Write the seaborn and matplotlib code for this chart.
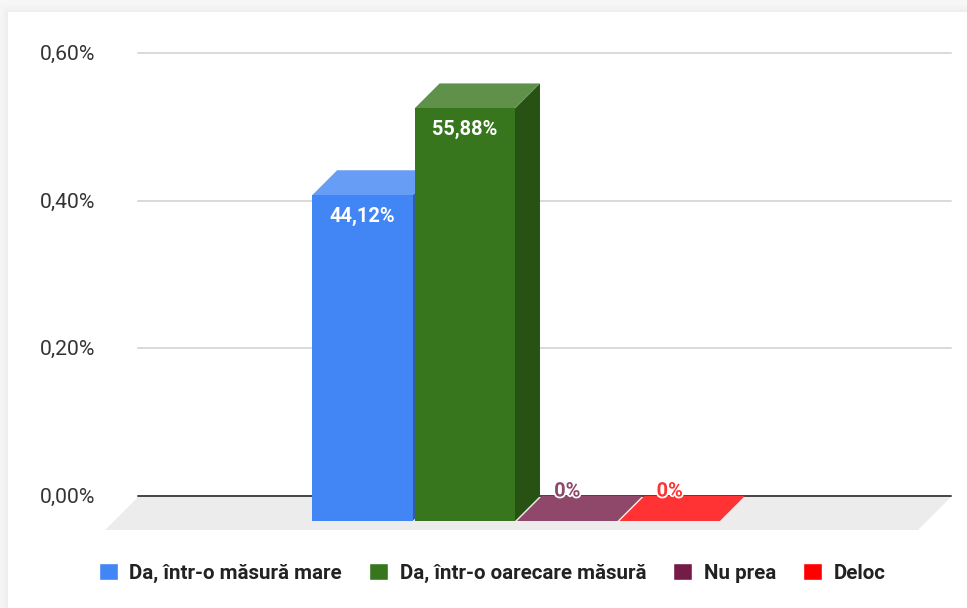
import matplotlib
matplotlib.use('Agg')
import matplotlib.pyplot as plt
import matplotlib.patheffects as pe
from matplotlib.patches import Polygon, Rectangle
from matplotlib.transforms import IdentityTransform, ScaledTranslation
import pandas as pd
import seaborn as sns

answers = ['Da, într-o măsură mare', 'Da, într-o oarecare măsură', 'Nu prea', 'Deloc']
values = [0.4412, 0.5588, 0.0, 0.0]
value_labels = ['44,12%', '55,88%', '0%', '0%']
y_ticks = [0.0, 0.2, 0.4, 0.6]
y_tick_labels = ['0,00%', '0,20%', '0,40%', '0,60%']

front_colors = ['#4285f4', '#38761d', '#741b47', '#ff0000']
top_colors = ['#689df6', '#60914a', '#8f4869', '#ff3333']
side_colors = ['#2e5daa', '#275214', '#511232', '#b20000']

W, H = 967, 608
DEPTH = 25
FONT = 'Roboto'

sns.set_theme(style='white')
plt.rcParams['font.family'] = [FONT, 'DejaVu Sans']

fig = plt.figure(figsize=(W / 100, H / 100), dpi=100, facecolor='#f7f7f7')

# soft shadow round the white card
for grow, col in [(8, '#f5f5f5'), (5, '#f2f2f2'), (2, '#eeeeee'), (0, '#ffffff')]:
    fig.patches.append(Rectangle((8 - grow, -10), W, H - 12 + 10 + grow,
                                 transform=IdentityTransform(), fc=col, ec='none', zorder=-5))

ax = fig.add_axes([138 / W, (H - 496) / H, (951 - 138) / W, (496 - 53) / H])
ax.set_facecolor('none')

df = pd.DataFrame({'group': [''] * len(answers), 'answer': answers, 'value': values})
sns.barplot(data=df, x='group', y='value', hue='answer', hue_order=answers,
            palette=front_colors, width=0.504, gap=0.02, saturation=1, ax=ax, zorder=3)

ax.set_xlim(-0.5 + 0.0043, 0.5 + 0.0043)
ax.set_ylim(0, 0.6)
ax.set_yticks(y_ticks, y_tick_labels)
ax.set_xticks([])
ax.set_xlabel('')
ax.set_ylabel('')
ax.tick_params(axis='y', length=0, pad=31, labelsize=15.2, labelcolor='#333333')
for lab in ax.get_yticklabels():
    lab.set_transform(lab.get_transform() + ScaledTranslation(0, 0.5 / 100, fig.dpi_scale_trans))
sns.despine(ax=ax, left=True, bottom=True, top=True, right=True)
ax.grid(False)
for t in y_ticks[1:]:
    ax.axhline(t, color='#d9d9d9', lw=1.4, zorder=1, clip_on=False)
ax.axhline(0, color='#444444', lw=1.4, zorder=2, clip_on=False)

# floor under the bars
fig.canvas.draw()
x0, y0 = ax.transAxes.transform((0, 0))
x1, _ = ax.transAxes.transform((1, 0))
ax.add_patch(Polygon([(x0, y0 - 1), (x1, y0 - 1), (x1 - 33, y0 - 34), (x0 - 33, y0 - 34)],
                     transform=IdentityTransform(), fc='#ececec', ec='none',
                     zorder=1.5, clip_on=False))

# extrude every bar: the drawn bar stands on the back plane, move it to the front
to_px = ax.transData
bars = [b for b in ax.patches if isinstance(b, Rectangle)][:len(answers)]
for i, bar in enumerate(bars):
    (xa, ya) = to_px.transform((bar.get_x(), 0))
    (xb, yb) = to_px.transform((bar.get_x() + bar.get_width(), bar.get_height()))
    z = 3 + i
    ax.add_patch(Polygon([(xb, ya), (xb, yb), (xb - DEPTH, yb - DEPTH), (xb - DEPTH, ya - DEPTH)],
                         transform=IdentityTransform(), fc=side_colors[i], ec='none',
                         zorder=z, clip_on=False))
    ax.add_patch(Polygon([(xa, yb), (xb, yb), (xb - DEPTH, yb - DEPTH), (xa - DEPTH, yb - DEPTH)],
                         transform=IdentityTransform(), fc=top_colors[i], ec='none',
                         zorder=z + 0.1, clip_on=False))
    bar.set_transform(IdentityTransform())
    bar.set_xy((xa - DEPTH, ya - DEPTH))
    bar.set_width(xb - xa)
    bar.set_height(yb - ya)
    bar.set_edgecolor('none')
    bar.set_zorder(z + 0.2)
    bar.set_clip_on(False)
    if bar.get_height() > 0:
        ax.text((xa + xb) / 2 - DEPTH, yb - DEPTH - 21, value_labels[i],
                transform=IdentityTransform(), ha='center', va='center', color='white',
                fontsize=14.4, fontweight='bold', zorder=10, clip_on=False)
    else:
        ax.text((xa + xb) / 2 - DEPTH, ya + 5, value_labels[i],
                transform=IdentityTransform(), ha='center', va='center', color=top_colors[i],
                fontsize=14.4, fontweight='bold', zorder=10, clip_on=False,
                path_effects=[pe.withStroke(linewidth=2.5, foreground='white')])

handles, labels = ax.get_legend_handles_labels()
if ax.get_legend():
    ax.get_legend().remove()
fig.legend(handles, labels, ncol=4, loc='center left', bbox_to_anchor=(98.5 / W, (H - 572.7) / H),
           frameon=False, prop={'family': FONT, 'weight': 'bold', 'size': 14.75},
           handlelength=0.93, handleheight=0.93, handletextpad=0.58, columnspacing=1.3,
           labelcolor='#222222', borderpad=0, borderaxespad=0)

fig.savefig('out.png', dpi=100, facecolor=fig.get_facecolor())
